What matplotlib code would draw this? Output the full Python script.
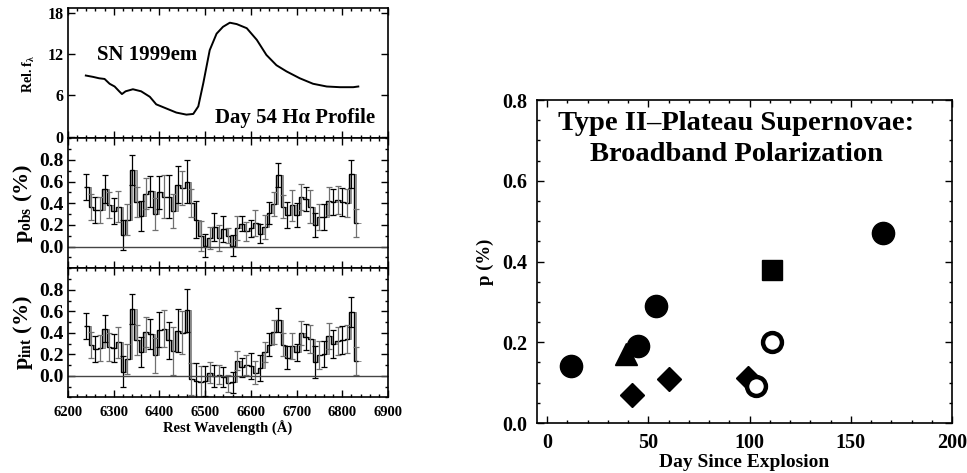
"""SN 1999em day-54 H-alpha polarization profile and Type II-P broadband polarization."""

import matplotlib as mpl
import numpy as np

mpl.use("Agg")
import matplotlib.pyplot as plt  # noqa: E402
from matplotlib.ticker import MultipleLocator  # noqa: E402

plt.rcParams.update(
    {
        "font.family": ["Liberation Serif", "DejaVu Serif"],
        "font.weight": "bold",
        "axes.labelweight": "bold",
        "mathtext.fontset": "custom",
        "mathtext.rm": "Liberation Serif:bold",
        "mathtext.it": "Liberation Serif:bold",
        "mathtext.bf": "Liberation Serif:bold",
        "axes.linewidth": 1.2,
        "xtick.direction": "in",
        "ytick.direction": "in",
        "xtick.top": True,
        "ytick.right": True,
        "xtick.major.size": 5,
        "ytick.major.size": 5,
        "xtick.minor.size": 2.5,
        "ytick.minor.size": 2.5,
    }
)

# --- flux profile (rest wavelength in A, relative f_lambda)
flux_wl = [6239, 6255, 6268, 6280, 6291, 6302, 6312, 6318, 6326, 6342, 6360,
           6379, 6393, 6415, 6437, 6459, 6474, 6485, 6496, 6510, 6525, 6539,
           6554, 6569, 6591, 6613, 6634, 6656, 6678, 6707, 6736, 6766, 6795,
           6824, 6835]
flux = [8.9, 8.7, 8.5, 8.4, 7.7, 7.3, 6.6, 6.2, 6.6, 6.9, 6.6,
        5.8, 4.7, 4.1, 3.5, 3.2, 3.3, 4.4, 7.8, 12.6, 15.0, 16.0,
        16.6, 16.4, 15.8, 14.1, 11.9, 10.4, 9.5, 8.5, 7.7, 7.3, 7.2,
        7.2, 7.3]

# --- 10 A bins starting at 6240 A
bin_start = 6240
bin_width = 10
p_obs = [0.55, 0.37, 0.34, 0.34, 0.53, 0.38, 0.33, 0.37, 0.11, 0.25,
         0.71, 0.41, 0.28, 0.49, 0.51, 0.30, 0.50, 0.46, 0.46, 0.33,
         0.57, 0.54, 0.60, 0.40, 0.25, 0.10, 0.01, 0.08, 0.18, 0.08,
         0.16, 0.10, 0.01, 0.17, 0.21, 0.14, 0.17, 0.22, 0.12, 0.18,
         0.31, 0.39, 0.66, 0.37, 0.29, 0.38, 0.29, 0.46, 0.44, 0.37,
         0.20, 0.27, 0.27, 0.42, 0.41, 0.43, 0.41, 0.40, 0.67, 0.22]
p_obs_err = [0.12, 0.12, 0.12, 0.12, 0.13, 0.12, 0.12, 0.14, 0.14, 0.14,
             0.14, 0.14, 0.14, 0.14, 0.14, 0.15, 0.15, 0.20, 0.20, 0.16,
             0.17, 0.16, 0.20, 0.13, 0.17, 0.14, 0.11, 0.10, 0.13, 0.12,
             0.12, 0.07, 0.10, 0.11, 0.07, 0.09, 0.08, 0.12, 0.09, 0.11,
             0.10, 0.11, 0.11, 0.11, 0.12, 0.14, 0.11, 0.12, 0.11, 0.15,
             0.11, 0.12, 0.12, 0.13, 0.12, 0.13, 0.13, 0.13, 0.13, 0.13]
p_int = [0.46, 0.29, 0.25, 0.26, 0.44, 0.27, 0.26, 0.31, 0.04, 0.16,
         0.62, 0.33, 0.22, 0.41, 0.39, 0.19, 0.43, 0.44, 0.33, 0.23,
         0.42, 0.40, 0.61, -0.03, -0.05, -0.06, -0.05, 0.03, 0.00, 0.01,
         -0.01, -0.07, -0.06, 0.14, 0.08, 0.10, 0.09, 0.03, 0.07, 0.22,
         0.29, 0.41, 0.52, 0.29, 0.17, 0.28, 0.22, 0.40, 0.36, 0.34,
         0.13, 0.19, 0.20, 0.37, 0.30, 0.32, 0.33, 0.34, 0.59, 0.14]
p_int_err = [0.12, 0.12, 0.12, 0.12, 0.13, 0.13, 0.13, 0.14, 0.14, 0.14,
             0.14, 0.14, 0.14, 0.14, 0.14, 0.16, 0.16, 0.17, 0.17, 0.22,
             0.20, 0.20, 0.20, 0.15, 0.17, 0.15, 0.14, 0.10, 0.10, 0.09,
             0.09, 0.08, 0.10, 0.09, 0.09, 0.09, 0.12, 0.11, 0.12, 0.09,
             0.11, 0.11, 0.11, 0.11, 0.11, 0.12, 0.08, 0.11, 0.12, 0.13,
             0.15, 0.13, 0.12, 0.12, 0.13, 0.13, 0.13, 0.13, 0.14, 0.13]

# --- broadband polarization of Type II-P supernovae
circ_day = [12, 45, 54, 166]
circ_p = [0.14, 0.19, 0.29, 0.47]
tri_day = [39]
tri_p = [0.172]
diam_day = [42, 60, 99]
diam_p = [0.069, 0.11, 0.112]
sq_day = [111]
sq_p = [0.38]
open_day = [103, 111]
open_p = [0.091, 0.20]

W, H = 967, 473
fig = plt.figure(figsize=(W / 100, H / 100), dpi=100)


def frac(x0, y0, x1, y1):
    return [x0 / W, 1 - y1 / H, (x1 - x0) / W, (y1 - y0) / H]


ax1 = fig.add_axes(frac(68, 8.3, 388, 138.3))
ax2 = fig.add_axes(frac(68, 138.3, 388, 268.3))
ax3 = fig.add_axes(frac(68, 268.3, 388, 397.3))
ax4 = fig.add_axes(frac(537, 100, 952, 423))

for ax in (ax1, ax2, ax3):
    ax.set_xlim(6200, 6900)
    ax.xaxis.set_major_locator(MultipleLocator(100))
    ax.xaxis.set_minor_locator(MultipleLocator(20))
    ax.tick_params(which="both", width=1.0)
    ax.tick_params(axis="y", labelsize=14, pad=3)
for ax in (ax1, ax2):
    ax.tick_params(axis="x", labelbottom=False)

# flux
ax1.plot(flux_wl, flux, color="black", lw=1.4)
ax1.set_ylim(-0.25, 18.7)
ax1.set_yticks([0, 6, 12, 18])
ax1.tick_params(axis="y", labelsize=11.5)
ax1.set_ylabel(r"Rel. f$_\lambda$", fontsize=10, labelpad=8)
ax1.text(0.09, 0.60, "SN 1999em", transform=ax1.transAxes, fontsize=15)
ax1.text(0.46, 0.12, "Day 54 H\u03b1 Profile", transform=ax1.transAxes,
         fontsize=15)


def pol_panel(ax, vals, errs, label):
    vals = np.asarray(vals)
    errs = np.asarray(errs)
    n = len(vals)
    centers = bin_start + bin_width * np.arange(n)
    edges = np.append(centers - bin_width / 2, centers[-1] + bin_width / 2)
    # grey band between the binned curve and the same curve half a bin later
    half = bin_width / 2
    xs = np.arange(edges[0], edges[-1] + 0.1, half)
    seg = np.arange(len(xs) - 1)
    main = vals[seg // 2]
    lag = vals[np.clip((seg - 1) // 2, 0, n - 1)]
    ax.fill_between(xs[:-1], main, lag, step="post", color="#a8a8a8", lw=0)
    ax.stairs(vals, edges + half, baseline=None, color="#7a7a7a", lw=0.6)
    ax.stairs(vals, edges, baseline=None, color="black", lw=1.0)
    for k, (c, v, e) in enumerate(zip(centers, vals, errs)):
        col = "black" if k % 2 == 0 else "#707070"
        ax.errorbar(c, v, yerr=e, fmt="none", ecolor=col, elinewidth=0.9,
                    capsize=2, capthick=0.9)
    ax.axhline(0, color="#444444", lw=1.0)
    ax.set_ylim(-0.2, 1.0)
    ax.yaxis.set_major_locator(MultipleLocator(0.2))
    ax.yaxis.set_minor_locator(MultipleLocator(0.1))
    ax.set_yticks([0.0, 0.2, 0.4, 0.6, 0.8])
    ax.set_yticklabels(["0.0", "0.2", "0.4", "0.6", "0.8"])
    ax.set_ylabel(label, fontsize=16, labelpad=3)


pol_panel(ax2, p_obs, p_obs_err, r"p$_{\rm obs}$ (%)")
pol_panel(ax3, p_int, p_int_err, r"p$_{\rm int}$ (%)")
ax3.tick_params(axis="x", labelsize=10.5, pad=6)
ax3.set_xlabel("Rest Wavelength (\u00c5)", fontsize=10.5, labelpad=2)

# broadband panel
ms = 16
ax4.plot(tri_day, tri_p, "^", color="black", ms=ms, zorder=3)
ax4.plot(circ_day, circ_p, "o", color="black", ms=ms, zorder=4)
ax4.plot(diam_day, diam_p, "D", color="black", ms=ms * 0.78, zorder=3)
ax4.plot(sq_day, sq_p, "s", color="black", ms=ms * 0.92, zorder=3)
ax4.plot(open_day, open_p, "o", mfc="white", mec="black", mew=3.2,
         ms=ms * 0.85, zorder=5)
ax4.set_xlim(-5, 200)
ax4.set_ylim(0, 0.8)
ax4.xaxis.set_major_locator(MultipleLocator(50))
ax4.xaxis.set_minor_locator(MultipleLocator(10))
ax4.yaxis.set_major_locator(MultipleLocator(0.2))
ax4.yaxis.set_minor_locator(MultipleLocator(0.05))
ax4.set_yticks([0.0, 0.2, 0.4, 0.6, 0.8])
ax4.set_yticklabels(["0.0", "0.2", "0.4", "0.6", "0.8"])
ax4.tick_params(which="both", width=1.0)
ax4.tick_params(axis="both", labelsize=14.5, pad=7)
ax4.set_xlabel("Day Since Explosion", fontsize=14, labelpad=1)
ax4.set_ylabel("p (%)", fontsize=13.5, labelpad=6)
ax4.text(0.48, 0.965, "Type II\u2013Plateau Supernovae:\nBroadband Polarization",
         transform=ax4.transAxes, ha="center", va="top", fontsize=20.5,
         linespacing=1.3)

fig.savefig("out.png", dpi=100)
